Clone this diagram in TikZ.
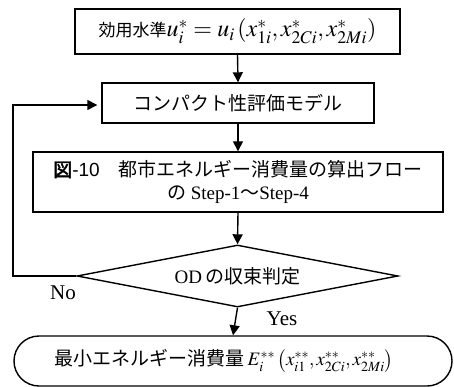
\documentclass[tikz,border=0pt]{standalone}
\usepackage{mathptmx}
\usepackage{fontspec}
\setmainfont{Liberation Serif}
\newfontfamily\cjk{Noto Sans CJK JP}
\newfontfamily\cjkb[FakeBold=2.5]{Noto Sans CJK JP}
\newfontfamily\arl{Liberation Sans}
\usetikzlibrary{arrows.meta,shapes.geometric,shapes.misc}
\begin{document}
\begin{tikzpicture}[x=1pt,y=-1pt,
  box/.style={draw,line width=1.4pt,inner sep=0pt,align=center,font=\fontsize{19}{23}\selectfont},
  arr/.style={line width=1.4pt,-{Triangle[length=10pt,width=10pt]}},
  lab/.style={inner sep=1pt,font=\fontsize{21}{24}\selectfont}]
\useasboundingbox (0,0) rectangle (454,387);
\node[box,minimum width=325pt,minimum height=45pt] (b1) at (237.5,31.5)
  {{\fontsize{17}{20}\selectfont\cjk 効用水準}{\fontsize{24}{26}\selectfont$u_i^{*} = u_i\,(x_{1i}^{*}, x_{2Ci}^{*}, x_{2Mi}^{*})$}};
\node[box,minimum width=272pt,minimum height=40pt] (b2) at (238,103)
  {\cjk コンパクト性評価モデル};
\node[box,minimum width=410pt,minimum height=60pt] (b3) at (238,182)
  {{\cjkb 図}{\arl -10}{\cjk\quad 都市エネルギー消費量の算出フロー}\\{\cjk の} Step-1{\cjk ～}Step-4};
\node[box,shape=diamond,aspect=5.2,minimum width=321pt,minimum height=62pt] (d) at (237.5,276)
  {OD\,{\cjk の収束判定}};
\node[box,shape=rounded rectangle,minimum width=438pt,minimum height=50pt] (e) at (233,361) {};
\node[inner sep=0pt,font=\fontsize{19}{23}\selectfont] (et) at (224,361)
  {{\cjk 最小エネルギー消費量}\,$E_i^{**}\left(x_{i1}^{**}, x_{2Ci}^{**}, x_{2Mi}^{**}\right)$};
\draw[arr] (b1.south) -- (b2.north);
\draw[arr] (b2.south) -- (b3.north);
\draw[arr] (b3.south) -- (d.north);
\draw[arr] (d.south) -- (e.north);
\coordinate (fb) at (13,276);
\draw[arr] (d.west) -- (fb) |- ([xshift=-4pt,yshift=-2pt]b2.west);
\node[lab] (no) at (63,293) {No};
\node[lab] (yes) at (282,319) {Yes};
\end{tikzpicture}
\end{document}
